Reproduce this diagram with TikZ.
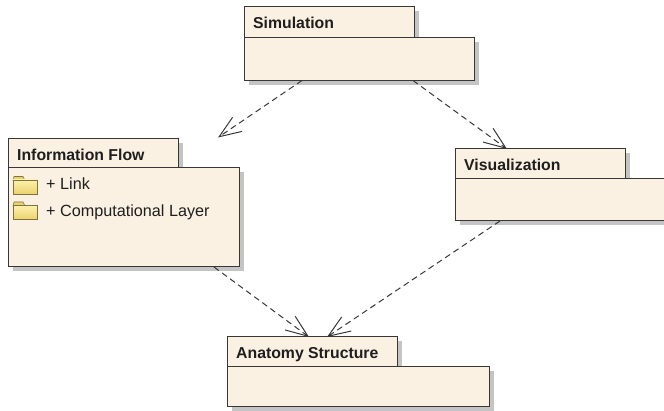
\documentclass[tikz,border=0pt]{standalone}
\usepackage{fontspec}
\setmainfont{Liberation Sans}
\usetikzlibrary{arrows.meta,shadows,calc}
\definecolor{pkgfill}{RGB}{251,241,226}
\definecolor{pkgline}{RGB}{55,55,55}
\definecolor{shade}{RGB}{196,196,196}
\definecolor{fldtop}{RGB}{252,241,172}
\definecolor{fldbot}{RGB}{236,210,110}
\definecolor{fldline}{RGB}{125,115,65}
\definecolor{txt}{RGB}{30,30,30}
\tikzset{
  pkg/.style={draw=pkgline, fill=pkgfill, line width=1pt, inner sep=0pt, outer sep=0pt,
    anchor=north west,
    drop shadow={shadow xshift=4.5pt, shadow yshift=-4.5pt, fill=shade, opacity=1}},
  title/.style={font=\bfseries\fontsize{15.8}{18}\selectfont, text=txt, anchor=base west, inner sep=0pt},
  item/.style={font=\fontsize{16.2}{18}\selectfont, text=txt, anchor=base west, inner sep=0pt},
  dep/.style={draw=pkgline, line width=1pt, dash pattern=on 6pt off 4pt,
    -{Straight Barb[length=22pt,width=17pt]}},
  folder/.pic={
    \draw[fldline, line width=0.6pt, fill=fldbot] (0,4) -- (1,0) -- (10,0) -- (12,4) -- cycle;
    \draw[fldline, line width=0.6pt, top color=fldtop, bottom color=fldbot]
      (0,3.5) rectangle (24,17.5);
  }
}
\begin{document}
\begin{tikzpicture}[x=1pt,y=-1pt]
\useasboundingbox (0,0) rectangle (664,411);
\clip (0,0) rectangle (664,411);

% Simulation
\node[pkg, minimum width=170pt, minimum height=31pt] (simtab) at (244,7) {};
\node[pkg, minimum width=230pt, minimum height=42.5pt] (sim) at (244,38) {};
\node[title] (simlabel) at (253,29) {Simulation};

% Information Flow
\node[pkg, minimum width=170pt, minimum height=29pt] (iftab) at (8,139) {};
\node[pkg, minimum width=231pt, minimum height=99pt] (if) at (8,168) {};
\node[title] (iflabel) at (17,161) {Information Flow};
\pic at (13,176.5) {folder};
\pic at (13,202) {folder};
\node[item] (link) at (46,190) {+ Link};
\node[item] (layer) at (46,216.5) {+ Computational Layer};

% Visualization
\node[pkg, minimum width=170pt, minimum height=30pt] (vistab) at (455,149) {};
\node[pkg, minimum width=215pt, minimum height=42pt] (vis) at (455,179) {};
\node[title] (vislabel) at (464,171) {Visualization};

% Anatomy Structure
\node[pkg, minimum width=170pt, minimum height=30pt] (anatab) at (227,337) {};
\node[pkg, minimum width=262pt, minimum height=40pt] (ana) at (227,367) {};
\node[title] (analabel) at (236,359) {Anatomy Structure};

% dependency end points
\coordinate (iftip) at ($(iftab.north east)+(40,-1.5)$);
\coordinate (vistip) at ($(vistab.north west)+(52,0)$);
\coordinate (anatipA) at ($(anatab.north west)+(82,0)$);
\coordinate (anatipB) at ($(anatab.north west)+(100,0)$);

\draw[dep] ($(sim.south west)+(58,0)$) -- (iftip);
\draw[dep] ($(sim.south west)+(169,0)$) -- (vistip);
\draw[dep] ($(if.south west)+(206,0)$) -- (anatipA);
\draw[dep] ($(vis.south west)+(45,0)$) -- (anatipB);
\end{tikzpicture}
\end{document}
